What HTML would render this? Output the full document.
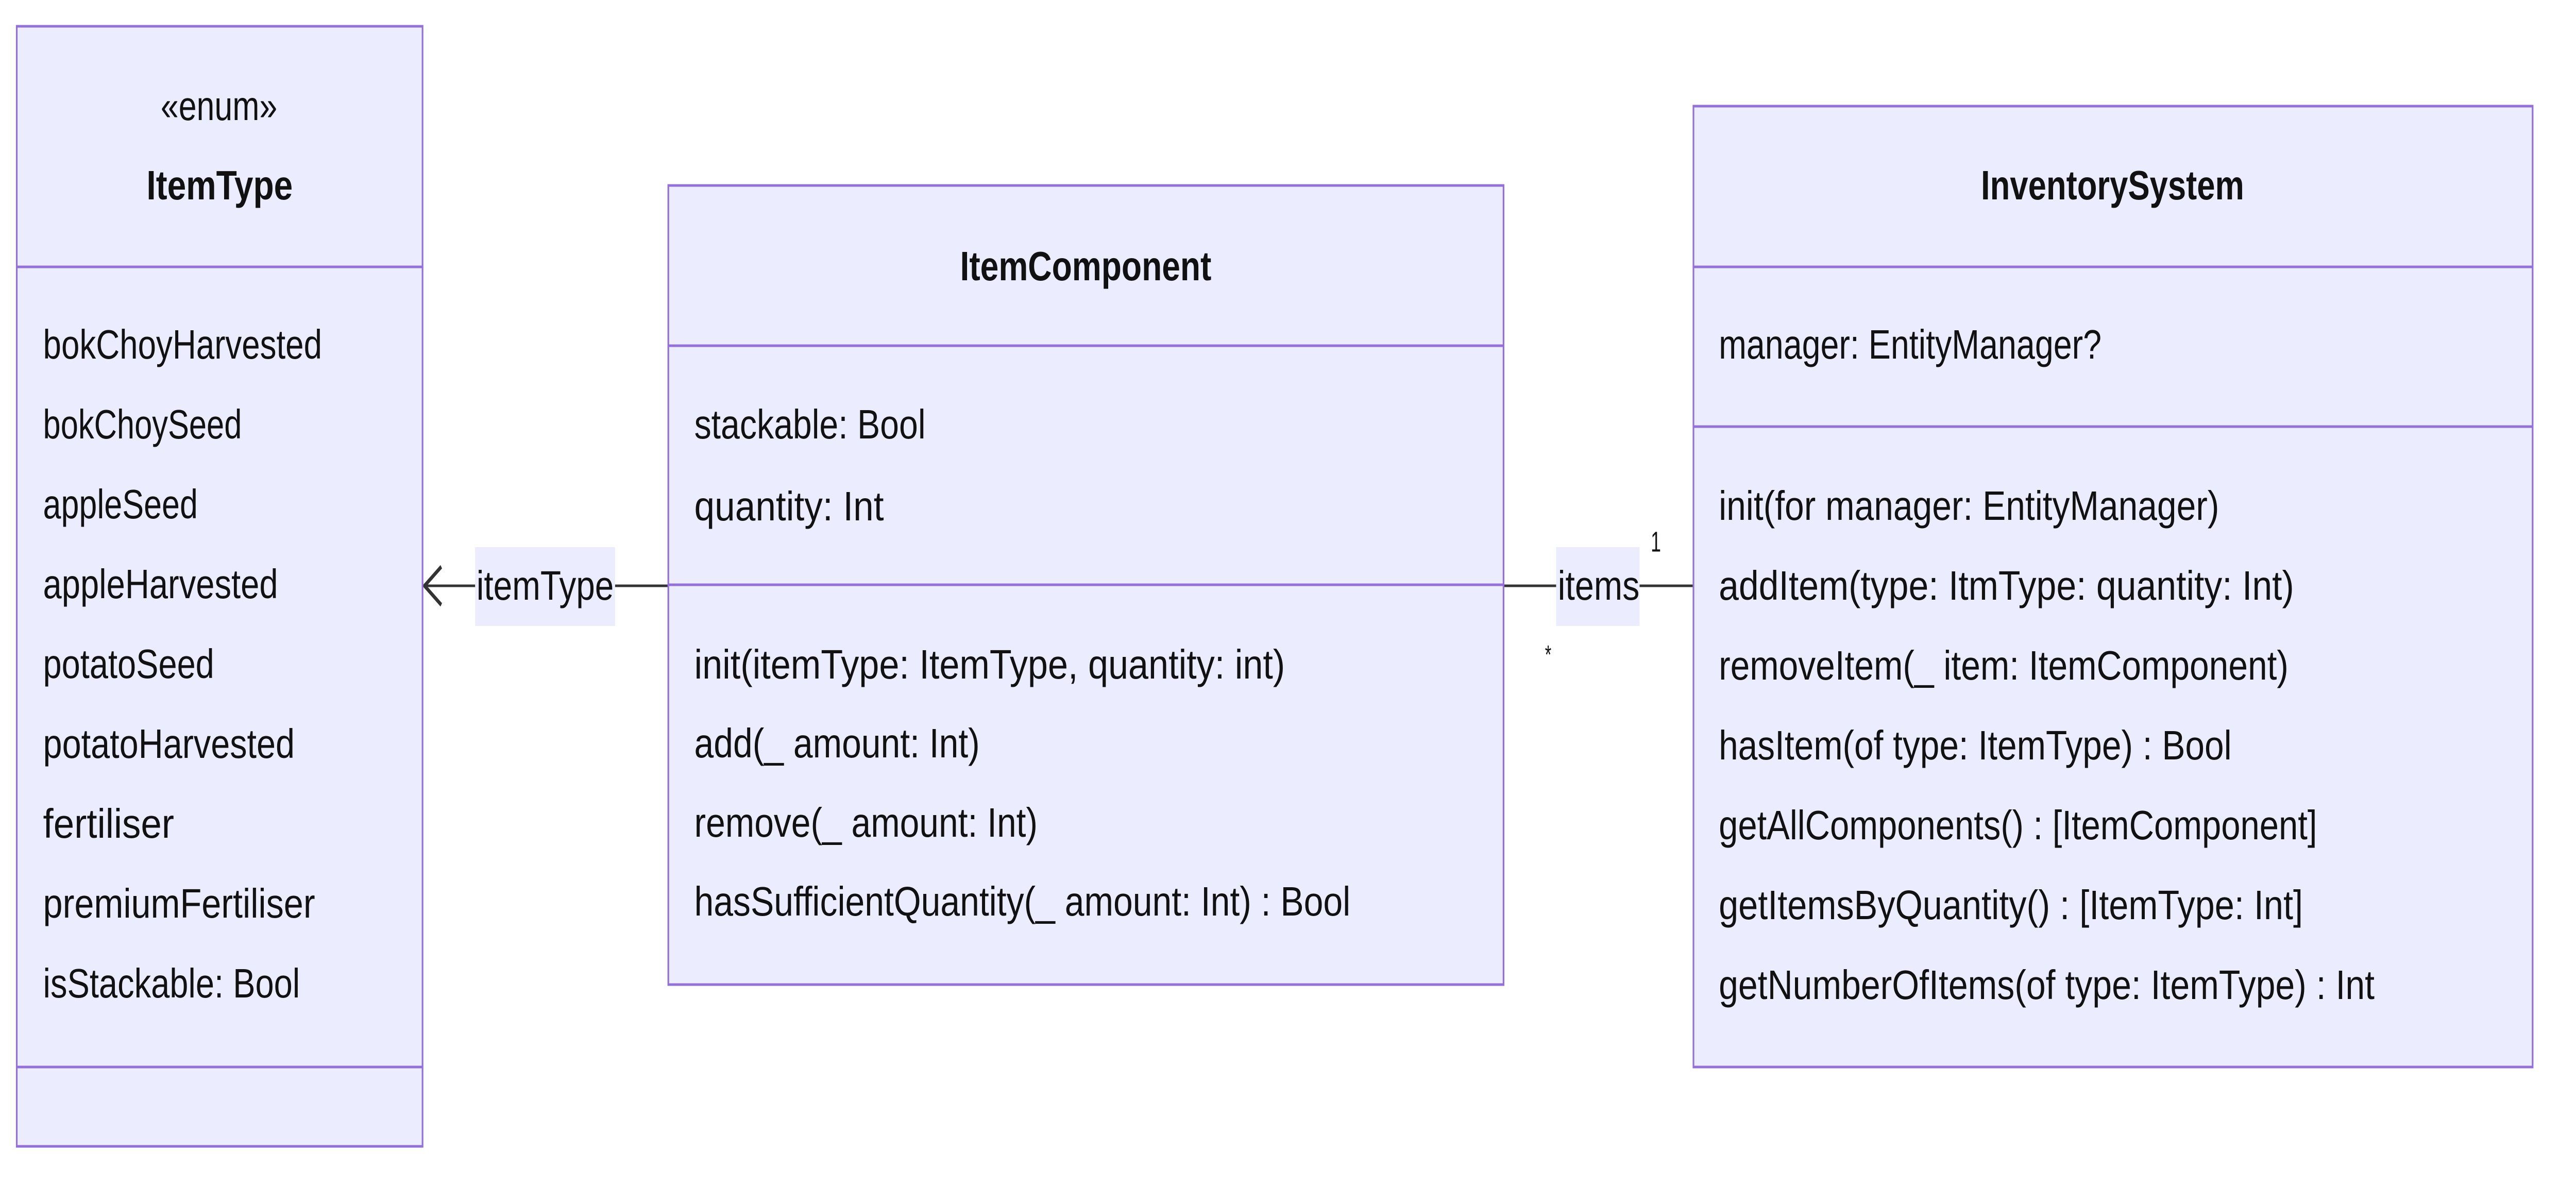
<!DOCTYPE html>
<html><head><meta charset="utf-8"><style>html,body{margin:0;padding:0;background:#fff;overflow:hidden}svg{display:block;width:100vw;height:100vh}</style></head>
<body>
<svg xmlns="http://www.w3.org/2000/svg" viewBox="0 0 7840 2300" preserveAspectRatio="none" font-family="'Liberation Sans', sans-serif" fill="#111">
<!-- edges -->
<line x1="1292" y1="1137" x2="2034" y2="1137" stroke="#333" stroke-width="5"/>
<polyline points="1343,1100 1292,1137 1343,1174" fill="none" stroke="#333" stroke-width="8" stroke-linejoin="miter"/>
<line x1="4576" y1="1137" x2="5154" y2="1137" stroke="#333" stroke-width="5"/>
<rect x="1446" y="1062" width="426" height="153" fill="#ECECFF"/>
<text x="1450" y="1137" font-size="80" dominant-baseline="central" textLength="418" lengthAdjust="spacingAndGlyphs">itemType</text>
<rect x="4736" y="1062" width="254" height="153" fill="#ECECFF"/>
<text x="4741" y="1137" font-size="80" dominant-baseline="central" textLength="249" lengthAdjust="spacingAndGlyphs">items</text>
<text x="5024" y="1051" font-size="56" dominant-baseline="central">1</text>
<text x="4702" y="1270" font-size="50" dominant-baseline="central">*</text>

<!-- ItemType -->
<rect x="51" y="51" width="1235" height="2174" fill="#ECECFF" stroke="#9370DB" stroke-width="5"/>
<line x1="51" y1="518" x2="1286" y2="518" stroke="#9370DB" stroke-width="5"/>
<line x1="51" y1="2071" x2="1286" y2="2071" stroke="#9370DB" stroke-width="5"/>
<g font-size="80" dominant-baseline="central">
<text x="489" y="206" textLength="355" lengthAdjust="spacingAndGlyphs">«enum»</text>
<text x="446" y="360" font-weight="bold" textLength="445" lengthAdjust="spacingAndGlyphs">ItemType</text>
<text x="131" y="669" textLength="849" lengthAdjust="spacingAndGlyphs">bokChoyHarvested</text>
<text x="131" y="824" textLength="605" lengthAdjust="spacingAndGlyphs">bokChoySeed</text>
<text x="131" y="979" textLength="471" lengthAdjust="spacingAndGlyphs">appleSeed</text>
<text x="131" y="1134" textLength="715" lengthAdjust="spacingAndGlyphs">appleHarvested</text>
<text x="131" y="1289" textLength="521" lengthAdjust="spacingAndGlyphs">potatoSeed</text>
<text x="131" y="1444" textLength="766" lengthAdjust="spacingAndGlyphs">potatoHarvested</text>
<text x="131" y="1599" textLength="399" lengthAdjust="spacingAndGlyphs">fertiliser</text>
<text x="131" y="1754" textLength="828" lengthAdjust="spacingAndGlyphs">premiumFertiliser</text>
<text x="131" y="1909" textLength="782" lengthAdjust="spacingAndGlyphs">isStackable: Bool</text>
</g>

<!-- ItemComponent -->
<rect x="2034" y="360" width="2542" height="1551" fill="#ECECFF" stroke="#9370DB" stroke-width="5"/>
<line x1="2034" y1="671" x2="4576" y2="671" stroke="#9370DB" stroke-width="5"/>
<line x1="2034" y1="1135" x2="4576" y2="1135" stroke="#9370DB" stroke-width="5"/>
<g font-size="80" dominant-baseline="central">
<text x="2922" y="517" font-weight="bold" textLength="765" lengthAdjust="spacingAndGlyphs">ItemComponent</text>
<text x="2113" y="824" textLength="704" lengthAdjust="spacingAndGlyphs">stackable: Bool</text>
<text x="2113" y="983" textLength="577" lengthAdjust="spacingAndGlyphs">quantity: Int</text>
<text x="2113" y="1290" textLength="1798" lengthAdjust="spacingAndGlyphs">init(itemType: ItemType, quantity: int)</text>
<text x="2113" y="1443" textLength="869" lengthAdjust="spacingAndGlyphs">add(_ amount: Int)</text>
<text x="2113" y="1597" textLength="1045" lengthAdjust="spacingAndGlyphs">remove(_ amount: Int)</text>
<text x="2113" y="1750" textLength="1997" lengthAdjust="spacingAndGlyphs">hasSufficientQuantity(_ amount: Int) : Bool</text>
</g>

<!-- InventorySystem -->
<rect x="5154" y="206" width="2554" height="1865" fill="#ECECFF" stroke="#9370DB" stroke-width="5"/>
<line x1="5154" y1="518" x2="7708" y2="518" stroke="#9370DB" stroke-width="5"/>
<line x1="5154" y1="828" x2="7708" y2="828" stroke="#9370DB" stroke-width="5"/>
<g font-size="80" dominant-baseline="central">
<text x="6029" y="360" font-weight="bold" textLength="801" lengthAdjust="spacingAndGlyphs">InventorySystem</text>
<text x="5231" y="669" textLength="1165" lengthAdjust="spacingAndGlyphs">manager: EntityManager?</text>
<text x="5231" y="982" textLength="1523" lengthAdjust="spacingAndGlyphs">init(for manager: EntityManager)</text>
<text x="5231" y="1137" textLength="1751" lengthAdjust="spacingAndGlyphs">addItem(type: ItmType: quantity: Int)</text>
<text x="5231" y="1292" textLength="1734" lengthAdjust="spacingAndGlyphs">removeItem(_ item: ItemComponent)</text>
<text x="5231" y="1447" textLength="1561" lengthAdjust="spacingAndGlyphs">hasItem(of type: ItemType) : Bool</text>
<text x="5231" y="1602" textLength="1821" lengthAdjust="spacingAndGlyphs">getAllComponents() : [ItemComponent]</text>
<text x="5231" y="1757" textLength="1778" lengthAdjust="spacingAndGlyphs">getItemsByQuantity() : [ItemType: Int]</text>
<text x="5231" y="1912" textLength="1996" lengthAdjust="spacingAndGlyphs">getNumberOfItems(of type: ItemType) : Int</text>
</g>
</svg>
</body></html>
